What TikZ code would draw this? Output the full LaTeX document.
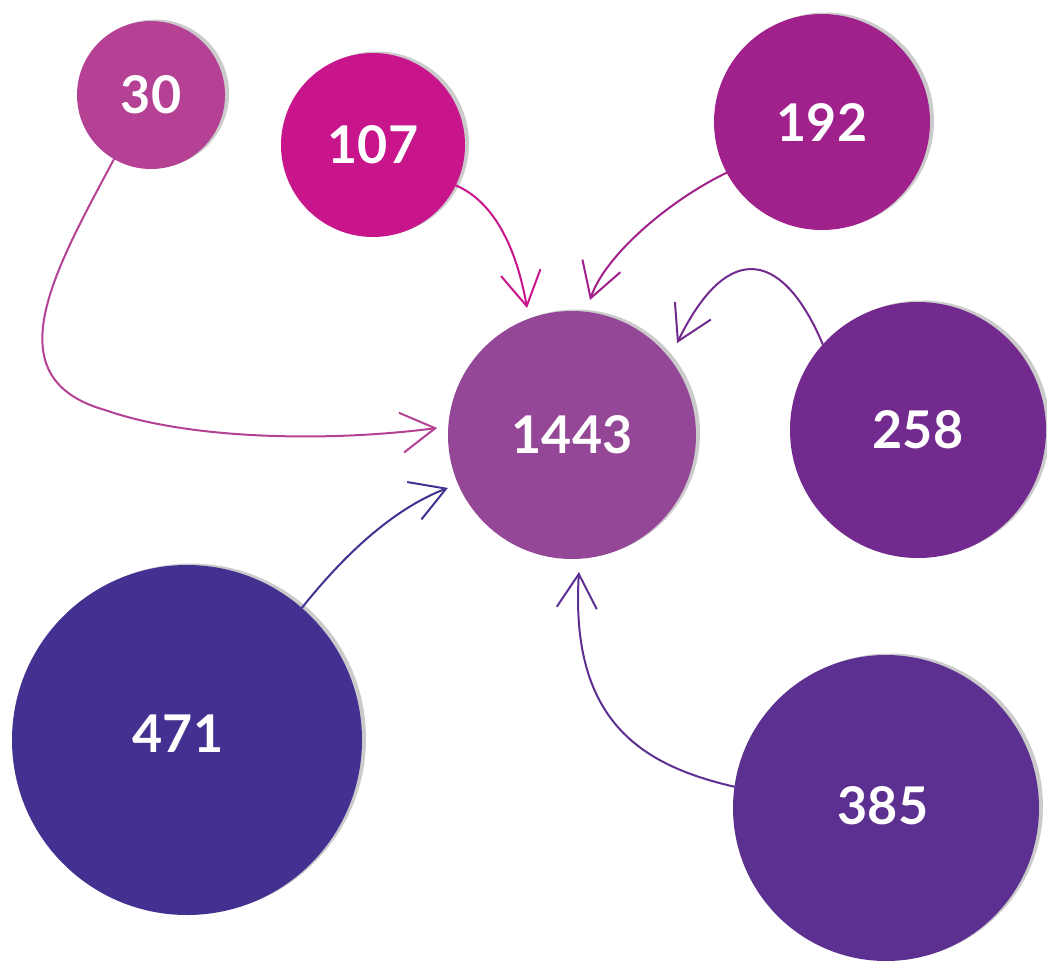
\documentclass[tikz,border=0pt]{standalone}
\usepackage{fontspec}
\setmainfont{Lato}
\usetikzlibrary{arrows.meta,shadows,calc}
\definecolor{c30}{HTML}{B54195}
\definecolor{c107}{HTML}{C8158C}
\definecolor{c192}{HTML}{A0208C}
\definecolor{c1443}{HTML}{954797}
\definecolor{c258}{HTML}{722A8E}
\definecolor{c471}{HTML}{443090}
\definecolor{c385}{HTML}{5C3090}
\definecolor{shadowgray}{HTML}{CBCBCB}
\begin{document}
\begin{tikzpicture}[x=1pt,y=1pt,
  bubble/.style={circle, inner sep=0pt, text=white,
    font=\fontsize{52}{60}\selectfont\bfseries,
    drop shadow={shadow xshift=4pt, shadow yshift=1.5pt, fill=shadowgray, opacity=1}},
  link/.style={line width=2pt, line cap=round, line join=round,
    -{Straight Barb[length=34pt,width=40pt,line width=2pt]}}]
\useasboundingbox (0,0) rectangle (1047,-961);
\fill[white] (0,0) rectangle (1047,-961);
\node[bubble, fill=c30, minimum size=148pt] (n30) at (151,-95) {30};
\node[bubble, fill=c107, minimum size=184pt] (n107) at (373,-145) {107};
\node[bubble, fill=c192, minimum size=216pt] (n192) at (822,-122) {192};
\node[bubble, fill=c1443, minimum size=248pt] (n1443) at (572,-435) {1443};
\node[bubble, fill=c258, minimum size=256pt] (n258) at (918,-430) {258};
\node[bubble, fill=c471, minimum size=350pt] (n471) at (187,-740) {\hspace*{-18pt}\raisebox{12pt}{471}};
\node[bubble, fill=c385, minimum size=306pt] (n385) at (886,-808) {\hspace*{-6pt}\raisebox{5pt}{385}};

\draw[link, c30] (n30.-120) .. controls (55,-270) and (-8,-378) .. (105,-410)
  .. controls (190,-440) and (330,-442) .. ($(n1443.center)+(177:135)$);
\draw[link, c107] (n107.-26) .. controls (490,-200) and (515,-240) .. ($(n1443.center)+(109.5:134.7)$);
\draw[link, c192] (n192.-152) .. controls (670,-200) and (605,-255) .. ($(n1443.center)+(82.4:136.2)$);
\draw[link, c258] (n258.138) .. controls (785,-255) and (730,-235) .. ($(n1443.center)+(41.2:139.6)$);
\draw[link, c471] (n471.49) .. controls (340,-560) and (390,-510) .. ($(n1443.center)+(203.1:134.9)$);
\draw[link, c385] (n385.172) .. controls (640,-765) and (570,-720) .. ($(n1443.center)+(-87.1:137.2)$);
\end{tikzpicture}
\end{document}
